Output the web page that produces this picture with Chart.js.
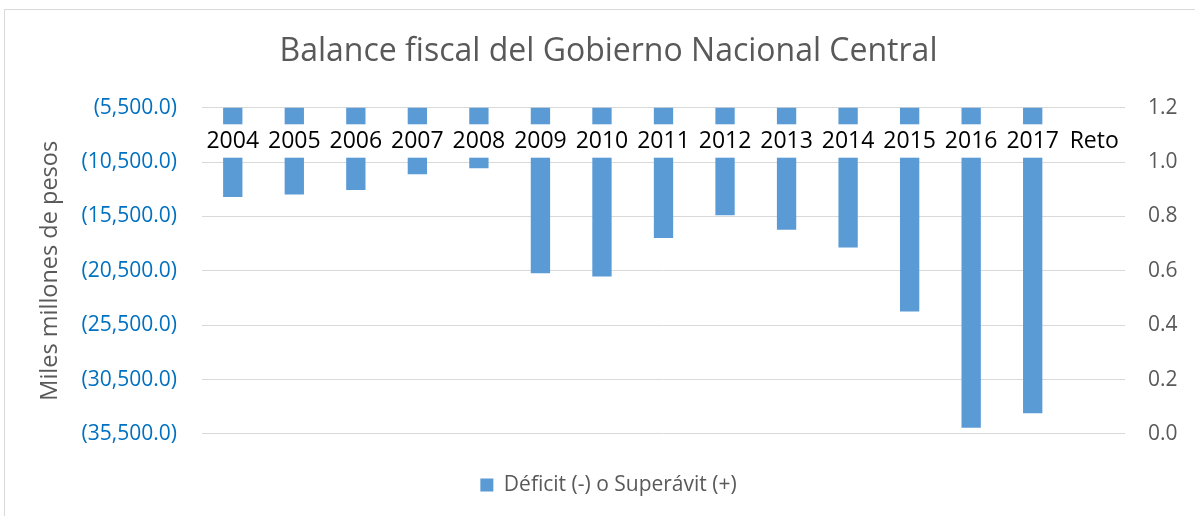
<!DOCTYPE html>
<html>
<head>
<meta charset="utf-8">
<script src="https://cdn.jsdelivr.net/npm/chart.js@4/dist/chart.umd.min.js"></script>
<style>
  body { margin: 0; background: #fff; }
  #wrap { position: relative; width: 1195px; height: 516px; overflow: hidden; }
  #frame { position: absolute; left: 4px; top: 9px; width: 1200px; height: 520px; border: 1px solid #d9d9d9; }
  canvas { position: absolute; left: 0; top: 0; }
</style>
</head>
<body>
<div id="wrap">
  <div id="frame"></div>
  <canvas id="balanceChart" width="1195" height="516"></canvas>
</div>
<script>
// data
const years = ["2004", "2005", "2006", "2007", "2008", "2009", "2010", "2011", "2012", "2013", "2014", "2015", "2016", "2017", "Reto"];
const balance = [-13710, -13490, -13065, -11620, -11065, -20720, -21030, -17490, -15400, -16720, -18350, -24250, -34930, -33600, null];
const leftTicks = [-35500, -30500, -25500, -20500, -15500, -10500, -5500];
const rightTicks = [0, 0.2, 0.4, 0.6, 0.8, 1.0, 1.2];

const gray = "#595959";
const fontName = "'Open Sans'";

// category labels sit inside the plot, over a white strip that cuts the bars
const categoryLabels = {
    id: "categoryLabels",
    afterDatasetsDraw(chart) {
        const ctx = chart.ctx;
        const area = chart.chartArea;
        const x = chart.scales.x;
        ctx.save();
        ctx.fillStyle = "#ffffff";
        ctx.fillRect(area.left, area.top + 16.6, area.right - area.left, 33.4);
        ctx.fillStyle = "#000000";
        ctx.font = "23px " + fontName;
        ctx.textAlign = "center";
        ctx.textBaseline = "middle";
        years.forEach((y, i) => {
            ctx.fillText(y, x.getPixelForValue(i), area.top + 33.5);
        });
        ctx.restore();
    }
};

const balctx = document.getElementById("balanceChart").getContext("2d");

const balanceChart = new Chart(balctx, {
    type: "bar",
    data: {
        labels: years,
        datasets: [{
            label: "Déficit (-) o Superávit (+)",
            data: balance,
            backgroundColor: "#5B9BD5",
            borderWidth: 0,
            barPercentage: 1,
            categoryPercentage: 0.314,
            yAxisID: "y"
        }]
    },
    options: {
        responsive: false,
        animation: false,
        layout: {
            padding: { left: 32, right: 10, top: 33, bottom: 10.4 }
        },
        plugins: {
            title: {
                display: true,
                text: "Balance fiscal del Gobierno Nacional Central",
                color: gray,
                font: { family: fontName, size: 32, weight: "normal", lineHeight: 1.2 },
                padding: { top: 0, bottom: 36.3 }
            },
            legend: {
                position: "bottom",
                labels: {
                    color: gray,
                    font: { family: fontName, size: 21 },
                    boxWidth: 13,
                    boxHeight: 13,
                    padding: 40.7
                }
            },
            tooltip: { enabled: false }
        },
        scales: {
            x: {
                display: false,
                offset: true
            },
            y: {
                position: "left",
                min: -35500,
                max: -5500,
                afterBuildTicks: (s) => { s.ticks = leftTicks.map(v => ({ value: v })); },
                afterFit: (s) => { s.width = 170; },
                grid: { color: "#d9d9d9", lineWidth: 1, drawTicks: false },
                border: { display: false },
                ticks: {
                    color: "#0070C0",
                    padding: 25,
                    font: { family: fontName, size: 21 },
                    callback: (v) => "(" + Math.abs(v).toLocaleString("en-US", { minimumFractionDigits: 1, maximumFractionDigits: 1 }) + ")"
                },
                title: {
                    display: true,
                    text: "Miles millones de pesos",
                    color: gray,
                    font: { family: fontName, size: 23.5 }
                }
            },
            y2: {
                position: "right",
                min: 0,
                max: 1.2,
                afterBuildTicks: (s) => { s.ticks = rightTicks.map(v => ({ value: v })); },
                afterFit: (s) => { s.width = 60; },
                grid: { display: false, drawTicks: false },
                border: { display: false },
                ticks: {
                    color: gray,
                    padding: 23,
                    font: { family: fontName, size: 21 },
                    callback: (v) => Number(v).toFixed(1)
                }
            }
        }
    },
    plugins: [categoryLabels]
});
</script>
</body>
</html>
